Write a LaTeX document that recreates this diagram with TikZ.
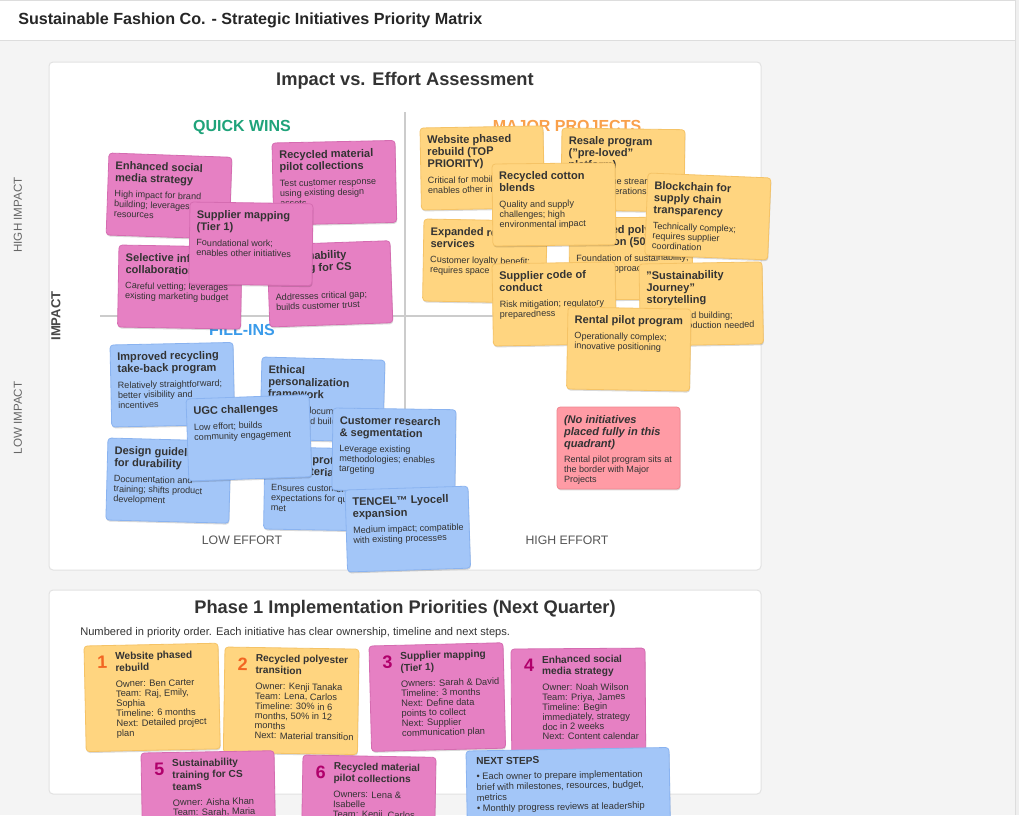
\documentclass[tikz,border=0pt]{standalone}
\usepackage{fontspec}
\setmainfont{Liberation Sans}
\usetikzlibrary{shadows}
\newdimen\pxu \pxu=0.75pt
\definecolor{bgc}{HTML}{F4F4F4}
\definecolor{sidec}{HTML}{EFEFEF}
\definecolor{linec}{HTML}{DDDDDD}
\definecolor{txt}{HTML}{333333}
\definecolor{lbl}{HTML}{555555}
\definecolor{pinkf}{HTML}{E680C3}
\definecolor{pinkd}{HTML}{D56CB1}
\definecolor{orangef}{HTML}{FFD580}
\definecolor{oranged}{HTML}{F5C366}
\definecolor{bluef}{HTML}{A3C6F8}
\definecolor{blued}{HTML}{8AB3F0}
\definecolor{redf}{HTML}{FF9BA5}
\definecolor{redd}{HTML}{EF8690}
\definecolor{qwin}{HTML}{1FA37A}
\definecolor{qmaj}{HTML}{F9A04B}
\definecolor{qfill}{HTML}{3A9BEA}
\definecolor{numor}{HTML}{F26522}
\definecolor{nummag}{HTML}{B0006B}
\definecolor{axisc}{HTML}{CCCCCC}
\definecolor{panelb}{HTML}{E2E2E2}
\newcommand\cardT{\fontsize{8.3pt}{9pt}\selectfont\bfseries}
\newcommand\cardB{\normalfont\fontsize{6.8pt}{7.5pt}\selectfont}
\newcommand\phT{\fontsize{7.6pt}{8.8pt}\selectfont\bfseries}
\newcommand\phB{\normalfont\fontsize{7pt}{7.4pt}\selectfont}
\newcommand\nsB{\normalfont\fontsize{7pt}{7.9pt}\selectfont}
\newcommand\phN{\fontsize{13.5pt}{14pt}\selectfont\bfseries}
\tikzset{
 cardbase/.style={rounded corners=2.5pt, line width=0.6pt, inner xsep=5.25pt, inner ysep=6pt, text=txt, outer sep=0pt,
   drop shadow={opacity=0.15, fill=black, shadow xshift=0.4pt, shadow yshift=-1.1pt}},
 pinkcard/.style={cardbase, fill=pinkf, draw=pinkd},
 orangecard/.style={cardbase, fill=orangef, draw=oranged},
 bluecard/.style={cardbase, fill=bluef, draw=blued},
 redcard/.style={cardbase, fill=redf, draw=redd},
 quadlabel/.style={font=\fontsize{12pt}{12pt}\selectfont\bfseries, inner sep=0pt},
 effortlabel/.style={font=\fontsize{9.2pt}{10pt}\selectfont, text=lbl, inner sep=0pt},
 impactlabel/.style={font=\fontsize{8.7pt}{10pt}\selectfont, text=lbl!90, inner sep=0pt, rotate=90},
 panel/.style={fill=white, draw=panelb, line width=0.75pt, rounded corners=3pt},
 axisline/.style={draw=axisc, line width=1.5pt},
 heading/.style={font=\fontsize{13.7pt}{15pt}\selectfont\bfseries, text=txt, inner sep=0pt},
}
\newcommand{\mcard}[7]{%
\node[#5, rotate=#4, anchor=north west] (#1) at (#2,#3) {\makebox[109\pxu][l]{\parbox[t][66\pxu][t]{170\pxu}{\raggedright\cardT #6\par\vspace{4.3pt}\cardB #7\par}}};%
}
\newcommand{\pcard}[9]{%
\node[#5, rotate=#4, anchor=north west, inner xsep=3.75pt, inner ysep=5.25pt] (#1) at (#2,#3) {\makebox[#6\pxu][l]{\parbox[t][88\pxu][t]{26\pxu}{\hspace*{8\pxu}\raisebox{-6.5pt}{\phN #7}}\parbox[t][88\pxu][t]{160\pxu}{\raggedright\phT #8\par\vspace{4.4pt}\phB #9\par}}};%
}
\begin{document}
\begin{tikzpicture}[x=0.75pt,y=-0.75pt]
\useasboundingbox (0,0) rectangle (1019,815);
\clip (0,0) rectangle (1019,815);
% background
\fill[bgc] (0,0) rectangle (1019,815);
\fill[sidec] (1015,0) rectangle (1019,815);
\draw[linec, line width=0.75pt] (1015.5,0) -- (1015.5,815);
\fill[white] (0,0) rectangle (1015,40);
\draw[linec, line width=0.75pt] (0,0.5) -- (1015,0.5);
\draw[linec, line width=1pt] (0,40.5) -- (1015,40.5);
\node[anchor=west, inner sep=0pt, text=black!85, font=\fontsize{12.1pt}{14pt}\selectfont\bfseries] (maintitle) at (18,20) {Sustainable Fashion Co. - Strategic Initiatives Priority Matrix};
% panels
\draw[panel] (49,62) rectangle (761,570);
\draw[panel] (49,590) rectangle (761,794);
\node[heading] (mtitle) at (405,81) {Impact vs. Effort Assessment};
% axes
\coordinate (vtop) at (405,112);
\coordinate (vbot) at (405,530);
\coordinate (hleft) at (100,316);
\coordinate (hright) at (710,316);
\draw[axisline] (vtop) -- (vbot);
\draw[axisline] (hleft) -- (hright);
\node[impactlabel] (hiimp) at (18,215) {HIGH IMPACT};
\node[impactlabel] (loimp) at (18,418) {LOW IMPACT};
\node[inner sep=0pt, rotate=90, text=txt!90, font=\fontsize{9.8pt}{11pt}\selectfont\bfseries] (impact) at (56,316) {IMPACT};
\node[effortlabel] (loeff) at (242,540) {LOW EFFORT};
\node[effortlabel] (hieff) at (567,540) {HIGH EFFORT};
\node[quadlabel, text=qwin] (qwlabel) at (242,127) {QUICK WINS};
\node[quadlabel, text=qmaj] (mplabel) at (567,126) {MAJOR PROJECTS};
\node[quadlabel, text=qfill] (filabel) at (242,330) {FILL-INS};
% quick wins
\mcard{qw1}{109}{153}{-2}{pinkcard}{Enhanced social\\media strategy}{High impact for brand\\building; leverages existing\\resources}
\mcard{qw2}{272}{143}{1.2}{pinkcard}{Recycled material\\pilot collections}{Test customer response\\using existing design\\assets}
\mcard{qw3}{119}{245}{-1}{pinkcard}{Selective influencer\\collaborations}{Careful vetting; leverages\\existing marketing budget}
\mcard{qw4}{267}{245}{2}{pinkcard}{Sustainability\\training for CS\\teams}{Addresses critical gap;\\builds customer trust}
\mcard{qw5}{190}{202}{-0.8}{pinkcard}{Supplier mapping\\(Tier 1)}{Foundational work;\\enables other initiatives}
% major projects
\mcard{mp1}{420}{128}{1}{orangecard}{Website phased\\rebuild (TOP\\PRIORITY)}{Critical for mobile;\\enables other initiatives}
\mcard{mp2}{562}{128}{-0.8}{orangecard}{Resale program\\("pre-loved"\\platform)}{New revenue stream;\\complex operations}
\mcard{mp5}{424}{219}{-1}{orangecard}{Expanded repair\\services}{Customer loyalty benefit;\\requires space and staff}
\mcard{mp6}{569}{218}{0.5}{orangecard}{Recycled polyester\\transition (50\%)}{Foundation of sustainability;\\phased approach}
\mcard{mp3}{492}{164}{0.6}{orangecard}{Recycled cotton\\blends}{Quality and supply\\challenges; high\\environmental impact}
\mcard{mp4}{648}{173}{-2.3}{orangecard}{Blockchain for\\supply chain\\transparency}{Technically complex;\\requires supplier\\coordination}
\mcard{mp7}{492}{264}{1}{orangecard}{Supplier code of\\conduct}{Risk mitigation; regulatory\\preparedness}
\mcard{mp8}{639}{264}{1}{orangecard}{"Sustainability\\Journey"\\storytelling}{Direct brand building;\\content production needed}
\mcard{mp9}{568}{307}{-1}{orangecard}{Rental pilot program}{Operationally complex;\\innovative positioning}
% fill-ins
\mcard{fi1}{110}{345}{1.2}{bluecard}{Improved recycling\\take-back program}{Relatively straightforward;\\better visibility and\\incentives}
\mcard{fi2}{108}{438}{-1.5}{bluecard}{Design guidelines\\for durability}{Documentation and\\training; shifts product\\development}
\mcard{fi3}{262}{357}{-1.5}{bluecard}{Ethical\\personalization\\framework}{Requires documentation\\policies and builds trust}
\mcard{fi4}{265}{447}{-1}{bluecard}{Quality protocol\\and materials}{Ensures customer\\expectations for quality\\met}
\mcard{fi5}{186}{399}{2}{bluecard}{UGC challenges}{Low effort; builds\\community engagement}
\mcard{fi6}{333}{408}{-0.8}{bluecard}{Customer research\\\& segmentation}{Leverage existing\\methodologies; enables\\targeting}
\mcard{fi7}{345}{490}{1.8}{bluecard}{TENCEL™ Lyocell\\expansion}{Medium impact; compatible\\with existing processes}
% thankless
\mcard{tt1}{557}{407}{0}{redcard}{\itshape (No initiatives\\placed fully in this\\quadrant)}{Rental pilot program sits at\\the border with Major\\Projects}
% phase 1
\node[heading] (ptitle) at (405,609) {Phase 1 Implementation Priorities (Next Quarter)};
\node[anchor=west, inner sep=0pt, text=txt, font=\fontsize{8.35pt}{9.5pt}\selectfont] (psub) at (80,633) {Numbered in priority order. Each initiative has clear ownership, timeline and next steps.};
\pcard{pr1}{84}{646}{1.2}{orangecard}{124}{\color{numor}1}{Website phased\\rebuild}{Owner: Ben Carter\\Team: Raj, Emily,\\Sophia\\Timeline: 6 months\\Next: Detailed project\\plan}
\pcard{pr2}{225}{647}{-0.9}{orangecard}{124}{\color{numor}2}{Recycled polyester\\transition}{Owner: Kenji Tanaka\\Team: Lena, Carlos\\Timeline: 30\% in 6\\months, 50\% in 12\\months\\Next: Material transition}
\pcard{pr3}{369}{646}{1.4}{pinkcard}{124}{\color{nummag}3}{Supplier mapping\\(Tier 1)}{Owners: Sarah \& David\\Timeline: 3 months\\Next: Define data\\points to collect\\Next: Supplier\\communication plan}
\pcard{pr4}{511}{649}{0.4}{pinkcard}{124}{\color{nummag}4}{Enhanced social\\media strategy}{Owner: Noah Wilson\\Team: Priya, James\\Timeline: Begin\\immediately, strategy\\doc in 2 weeks\\Next: Content calendar}
\pcard{pr5}{141}{753}{1}{pinkcard}{123}{\color{nummag}5}{Sustainability\\training for CS\\teams}{Owner: Aisha Khan\\Team: Sarah, Maria}
\pcard{pr6}{303}{755}{-1}{pinkcard}{123}{\color{nummag}6}{Recycled material\\pilot collections}{Owners: Lena \&\\Isabelle\\Team: Kenji, Carlos}
\node[bluecard, rotate=1, anchor=north west, inner xsep=7.5pt, inner ysep=5.25pt] (nextsteps) at (466,751) {\makebox[183\pxu][l]{\parbox[t][88\pxu][t]{230\pxu}{\raggedright\phT NEXT STEPS\par\vspace{3.4pt}\nsB • Each owner to prepare implementation\\brief with milestones, resources, budget,\\metrics\\• Monthly progress reviews at leadership\par}}};
\end{tikzpicture}
\end{document}
